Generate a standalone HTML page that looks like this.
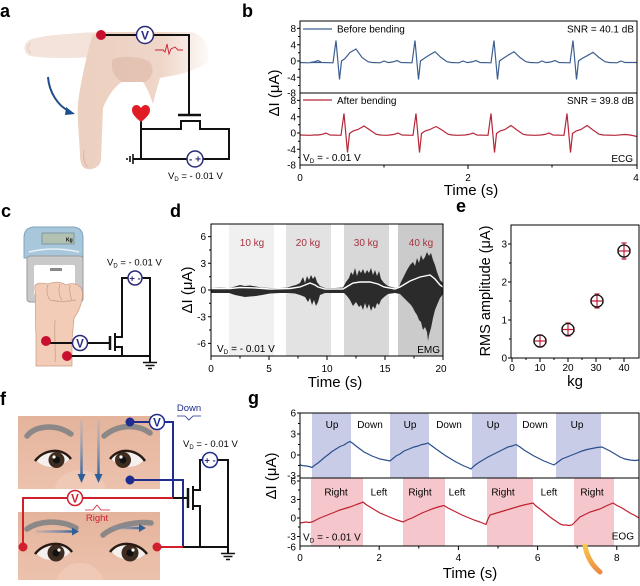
<!DOCTYPE html>
<html><head><meta charset="utf-8">
<style>
html,body{margin:0;padding:0;background:#fff;}
svg{display:block;font-family:"Liberation Sans",Arial,sans-serif;}
</style></head><body>
<svg width="640" height="586" viewBox="0 0 640 586" xmlns="http://www.w3.org/2000/svg">
<defs>
<linearGradient id="skinA" x1="80" y1="0" x2="215" y2="0" gradientUnits="userSpaceOnUse">
<stop offset="0" stop-color="#ecd0c0"/><stop offset="0.6" stop-color="#efd6c9"/><stop offset="1" stop-color="#ffffff"/>
</linearGradient>
<linearGradient id="faceT" x1="0" y1="0" x2="0" y2="1">
<stop offset="0" stop-color="#e4b49c"/><stop offset="1" stop-color="#ecc2ad"/>
</linearGradient>
<linearGradient id="arrV" x1="0" y1="420" x2="0" y2="478" gradientUnits="userSpaceOnUse">
<stop offset="0" stop-color="#9ab0cc" stop-opacity="0.3"/><stop offset="1" stop-color="#2f5f98"/>
</linearGradient>
<linearGradient id="arrH1" x1="36" y1="0" x2="76" y2="0" gradientUnits="userSpaceOnUse">
<stop offset="0" stop-color="#8a9ab8" stop-opacity="0.3"/><stop offset="1" stop-color="#2f5f98"/>
</linearGradient>
<linearGradient id="arrH2" x1="112" y1="0" x2="144" y2="0" gradientUnits="userSpaceOnUse">
<stop offset="0" stop-color="#8a9ab8" stop-opacity="0.3"/><stop offset="1" stop-color="#2f5f98"/>
</linearGradient>
<linearGradient id="orng" x1="0" y1="0" x2="0" y2="1">
<stop offset="0" stop-color="#f6c84a"/><stop offset="1" stop-color="#ef8a45"/>
</linearGradient>
<clipPath id="clipTop"><rect x="18" y="416" width="142" height="73"/></clipPath>
<clipPath id="clipBot"><rect x="18" y="512" width="142" height="68"/></clipPath>
</defs>

<!-- ================= PANEL A ================= -->
<text x="0" y="17" font-size="18" font-weight="bold">a</text>
<path d="M100,32 C75,33 45,35 32,39 C23,42 22,52 30,56 C50,59 75,58 92,57 Z" fill="#f3e3da"/>
<path d="M31,43 C27,46 27,50 31,53" stroke="#e2cabd" fill="none"/>
<path d="M92,36 C95,33 100,32 110,32 L190,32 C200,33 206,40 208,50 L208,62 C200,68 185,74 170,76 L160,78 C157,88 155,96 153,104 C150,95 147,88 143,82 L122,82 C115,86 108,96 103,108 L101,160 C100,167 93,170 87,169 C82,168 80,163 80,155 C79,135 77,115 78,103 C81,80 87,55 92,36 Z" fill="url(#skinA)"/>
<path d="M112,60 C120,55 140,56 150,62 C155,70 152,78 145,82 L122,82 C115,78 110,70 112,60Z" fill="#deb8a6" opacity="0.6"/>
<path d="M84,150 C83,158 84,164 88,167" stroke="#d9b8a8" fill="none"/>
<path d="M48,77 C49,92 58,106 69,111" stroke="#1f4e8c" stroke-width="2" fill="none"/>
<polygon points="75,114 66,107 65,115" fill="#1f4e8c"/>
<polyline points="155,50 163,50 165,52 167,44 169,54 171,49 175,47 178,50 183,50" stroke="#c8202e" stroke-width="0.9" fill="none"/>
<g stroke="#111" stroke-width="2" fill="none">
<path d="M101,35 H189 V115"/>
<path d="M178,115 H201" stroke-width="2.5"/>
<path d="M141,129 H181 V121 H200 V129 H229 V159 H141 V118"/>
<path d="M141,159 H133"/>
<path d="M133,154 V164 M130,156 V162 M127,158 V160" stroke-width="1.6"/>
</g>
<path d="M141,122 C135,117 132,114 132,110 C132,107 134,105 136.5,105 C138.5,105 140,106.5 141,108 C142,106.5 143.5,105 145.5,105 C148,105 150,107 150,110 C150,114 147,117 141,122 Z" fill="#e01c24"/>
<circle cx="101" cy="35" r="5" fill="#c8102e"/>
<circle cx="145" cy="35" r="8.5" fill="#fff" stroke="#2a2a7a" stroke-width="1.5"/>
<text x="145" y="39.5" font-size="12" text-anchor="middle" fill="#2a2a7a" font-weight="bold">V</text>
<circle cx="195" cy="159" r="8" fill="#fff" stroke="#2a2a7a" stroke-width="1.5"/>
<text x="195" y="162.5" font-size="10" text-anchor="middle" fill="#2a2a7a" font-weight="bold">- +</text>
<text x="168" y="179" font-size="9.5">V<tspan font-size="6" dy="2">D</tspan><tspan dy="-2"> = - 0.01 V</tspan></text>

<!-- ================= PANEL B ================= -->
<text x="242" y="17" font-size="18" font-weight="bold">b</text>
<polyline fill="none" stroke="#3d5f8f" stroke-width="1.2" points="300,62.5 308,62.8 316,62.3 322,62.5
310,62.5 314,61.9 318,60.5 322,62.5 333,62.8 336,40.5 339.5,79.5 341.5,61 345,58.5 350,52.5 356,49 362,57.5 368,61.7 372,62.5 380,62.8 384,61 388,62.5
389,62.5 393,61.9 397,60.5 401,62.5 412,62.8 415,40.5 418.5,79.5 420.5,61 424,58.5 429,55.2 435,51.7 441,57.5 447,61.7 451,62.5 459,62.8 463,61 467,62.5
468,62.5 472,61.9 476,60.5 480,62.5 491,62.8 494,40.5 497.5,79.5 499.5,61 503,58.5 508,55.2 514,51.7 520,57.5 526,61.7 530,62.5 538,62.8 542,61 546,62.5
547,62.5 551,61.9 555,60.5 559,62.5 570,62.8 573,40.5 576.5,79.5 578.5,61 582,58.5 587,55.8 593,52.3 599,57.5 605,61.7 609,62.5 617,62.8 621,61 625,62.5 637,62.5"/>
<polyline fill="none" stroke="#b5283a" stroke-width="1.2" points="300,135 310,135.3 314,135
318,135 322,134.4 326,133 330,135 341,135.3 344,113.5 347.5,152.5 349.5,133.5 353,131 358,129.5 364,126 370,130 376,134.2 380,135 386,135.3
390,135 394,134.4 398,133 402,135 413,135.3 416,113.5 419.5,152.5 421.5,133.5 425,131 430,129.5 436,126.5 442,130 448,134.2 452,135 458,135.3
465,135 469,134.4 473,133 477,135 488,135.3 491,113.5 494.5,152.5 496.5,133.5 500,131 505,129.5 511,125.5 517,130 523,134.2 527,135 535,135.3
541,135 545,134.4 549,133 553,135 564,135.3 567,113.5 570.5,152.5 572.5,133.5 576,131 581,129.5 587,125.5 593,130 599,134.2 603,135 615,135.3 625,134.5 630,135 637,136.5"/>
<g stroke="#000" stroke-width="1" fill="none">
<rect x="300" y="21" width="337" height="144"/>
<line x1="300" y1="93" x2="637" y2="93"/>
<path d="M297,28.4H300M297,44.7H300M297,61H300M297,77.3H300M297,100.4H300M297,116.7H300M297,133H300M297,149.3H300M298,36.5H300M298,52.8H300M298,69.2H300M298,85.5H300M298,108.5H300M298,124.8H300M298,141.2H300M298,157.4H300"/>
<path d="M300,165V169M468,165V169M637,165V169M384,165V167.5M552,165V167.5"/>
</g>
<line x1="303" y1="29" x2="332" y2="29" stroke="#3d5f8f" stroke-width="1.3"/>
<line x1="303" y1="100" x2="332" y2="100" stroke="#b5283a" stroke-width="1.3"/>
<g font-size="10">
<text x="337" y="32.5">Before bending</text>
<text x="337" y="104">After bending</text>
<text x="634" y="32.5" text-anchor="end">SNR = 40.1 dB</text>
<text x="634" y="104" text-anchor="end">SNR = 39.8 dB</text>
<text x="303" y="161">V<tspan font-size="6.5" dy="2">D</tspan><tspan dy="-2"> = - 0.01 V</tspan></text>
<text x="633" y="162" text-anchor="end">ECG</text>
</g>
<g font-size="10" text-anchor="end">
<text x="296" y="32">8</text><text x="296" y="48.3">4</text><text x="296" y="64.6">0</text><text x="296" y="80.9">-4</text><text x="296" y="96.5">-8</text>
<text x="296" y="104">8</text><text x="296" y="120.3">4</text><text x="296" y="136.6">0</text><text x="296" y="152.9">-4</text><text x="296" y="168.5">-8</text>
</g>
<g font-size="10" text-anchor="middle">
<text x="300" y="181">0</text><text x="468" y="181">2</text><text x="636" y="181">4</text>
</g>
<text x="471" y="195" font-size="15" text-anchor="middle">Time (s)</text>
<text transform="translate(279,93) rotate(-90)" font-size="15" text-anchor="middle">ΔI (μA)</text>

<!-- ================= PANEL C ================= -->
<text x="1" y="217" font-size="18" font-weight="bold">c</text>
<path d="M24,238 Q24,227 35,227 L72,227 Q83,227 83,238 L83,258 L24,258 Z" fill="#a9c7db" stroke="#7da4bf" stroke-width="1"/>
<rect x="42" y="233" width="32" height="11" fill="#b3c1b2" stroke="#6f8c9c" stroke-width="0.8"/>
<text x="66" y="241.5" font-size="5" font-weight="bold">Kg</text>
<path d="M29,252 Q53,246 79,252" stroke="#e9f3f9" stroke-width="1.6" fill="none"/>
<rect x="27" y="256" width="56" height="46" rx="3" fill="#c9c9c9" stroke="#9a9a9a" stroke-width="1"/>
<rect x="34" y="265" width="41" height="30" rx="2" fill="#fff"/>
<rect x="50" y="268" width="12" height="3" fill="#8a8a8a"/>
<path d="M35,290 C33,283 40,282 48,284 C55,281 62,282 66,285 C72,282 80,284 82,290 C84,298 80,310 74,318 L72,340 L72,366 L36,366 L36,335 C35,320 36,300 35,290 Z" fill="#f2ccb6" stroke="#c99a86" stroke-width="0.7"/>
<path d="M48,285 C46,290 47,296 50,300 M60,284 C58,290 59,296 62,300 M70,285 C69,290 70,296 72,300 M50,300 C58,302 66,302 76,300 M55,320 C54,335 56,350 55,362" stroke="#c99a86" stroke-width="0.7" fill="none"/>
<g stroke="#111" stroke-width="2" fill="none">
<path d="M46,343 H110"/>
<path d="M110,336 V350" stroke-width="2.5"/>
<path d="M115,333 V351"/>
<path d="M115,337 H122 V278 H128"/>
<path d="M142,278 H150 V362"/>
<path d="M115,347 H122 V356"/>
<path d="M67,356 H150"/>
<path d="M143,362.5 H157 M145.5,365.5 H154.5 M148,368.5 H152" stroke-width="1.5"/>
</g>
<circle cx="46" cy="341" r="5" fill="#c8102e"/>
<circle cx="67" cy="356" r="5" fill="#c8102e"/>
<circle cx="80" cy="343" r="7.5" fill="#fff" stroke="#2a2a7a" stroke-width="1.5"/>
<text x="80" y="347.5" font-size="11.5" text-anchor="middle" fill="#2a2a7a" font-weight="bold">V</text>
<circle cx="135" cy="278" r="7" fill="#fff" stroke="#2a2a7a" stroke-width="1.5"/>
<text x="135" y="281.5" font-size="9.5" text-anchor="middle" fill="#2a2a7a" font-weight="bold">+ -</text>
<text x="107" y="265.5" font-size="9.5">V<tspan font-size="6" dy="2">D</tspan><tspan dy="-2"> = - 0.01 V</tspan></text>

<!-- ================= PANEL D ================= -->
<text x="170" y="217" font-size="18" font-weight="bold">d</text>
<rect x="229" y="224" width="45" height="132" fill="#f0f0f0"/>
<rect x="286" y="224" width="45" height="132" fill="#e3e3e3"/>
<rect x="344" y="224" width="45" height="132" fill="#d8d8d8"/>
<rect x="398" y="224" width="45" height="132" fill="#cbcbcb"/>
<polygon fill="#2b2b2b" points="211,288 220,287.5 229,288 235,286.5 240,285 245,286 250,285.5 256,286.5 262,287.5 270,288 280,288 288,287.5 292,286 296,285 300,283 303,277 305,283 307,276 309,280 311,275 313,279 315,276 317,282 320,286 325,288 335,288 343,287.5 346,282 349,278 351,272 353,275 355,268 357,276 359,270 361,273 363,269 365,274 367,270 369,273 371,268 373,275 375,270 377,276 379,271 381,279 384,283 388,286 395,288 399,287 401,282 404,276 407,270 410,265 413,262 415,266 417,258 419,263 421,255 423,260 425,257 427,252 429,256 431,253 433,260 435,265 437,272 440,280 443,283
443,294 440,298 437,305 435,310 433,318 431,328 429,335 428,341 427,332 425,327 423,330 421,322 419,320 417,315 415,312 413,308 411,305 409,303 406,300 403,297 400,294 395,293 388,294 384,297 381,300 379,305 377,303 375,309 373,306 371,311 369,304 367,309 365,303 363,310 361,305 359,307 356,302 353,306 350,300 347,296 344,293 335,293 325,293 320,295 318,302 316,306 314,300 312,305 310,298 308,302 305,297 300,295 295,293.5 288,293 280,293 270,293.5 262,295 256,296 250,296.5 245,297 240,296 235,295 229,293 220,293 211,293"/>
<polyline fill="none" stroke="#fff" stroke-width="1.4" points="211,288.5 230,288.5 240,287.5 256,288 270,289 290,288.5 300,287 305,285 310,283 315,285 318,287 325,289 343,289 348,286 353,283 360,282 370,282 378,284 384,287 395,289 400,287 405,284 410,281 415,279 420,277 425,276 430,275 435,279 440,285 443,287"/>
<g stroke="#000" stroke-width="1" fill="none">
<rect x="211" y="224" width="232" height="132"/>
<path d="M208,236.6H211M208,263.3H211M208,290H211M208,316.7H211M208,343.4H211M209,250H211M209,276.7H211M209,303.3H211M209,330H211"/>
<path d="M211,356V360M269,356V360M327,356V360M385,356V360M443,356V360M240,356V358.5M298,356V358.5M356,356V358.5M414,356V358.5"/>
</g>
<g font-size="10" fill="#a8323e" text-anchor="middle">
<text x="252" y="246">10 kg</text><text x="308" y="246">20 kg</text><text x="366" y="246">30 kg</text><text x="421" y="246">40 kg</text>
</g>
<g font-size="10">
<text x="217" y="352">V<tspan font-size="6.5" dy="2">D</tspan><tspan dy="-2"> = - 0.01 V</tspan></text>
<text x="440" y="353" text-anchor="end">EMG</text>
</g>
<g font-size="10" text-anchor="end">
<text x="206" y="240">6</text><text x="206" y="267">3</text><text x="206" y="293.6">0</text><text x="206" y="320.3">-3</text><text x="206" y="347">-6</text>
</g>
<g font-size="10" text-anchor="middle">
<text x="211" y="372">0</text><text x="269" y="372">5</text><text x="327" y="372">10</text><text x="385" y="372">15</text><text x="441" y="372">20</text>
</g>
<text x="335" y="387" font-size="15" text-anchor="middle">Time (s)</text>
<text transform="translate(192,290) rotate(-90)" font-size="15" text-anchor="middle">ΔI (μA)</text>

<!-- ================= PANEL E ================= -->
<text x="456" y="212" font-size="18" font-weight="bold">e</text>
<g stroke="#000" stroke-width="1" fill="none">
<rect x="511" y="225" width="128" height="133"/>
<path d="M508,358H511M508,320H511M508,282H511M508,244H511M509,339H511M509,301H511M509,263H511"/>
<path d="M512,358V362M540,358V362M568,358V362M596,358V362M624,358V362M526,358V360M554,358V360M582,358V360M610,358V360"/>
</g>
<g stroke="#c0203a" stroke-width="1.2" fill="none">
<path d="M540,335V347M537.5,335H542.5M537.5,347H542.5M534,341H546M534,338.5V343.5M546,338.5V343.5"/>
<path d="M568,323V336M565.5,323H570.5M565.5,336H570.5M562,329.5H574M562,327V332M574,327V332"/>
<path d="M597,294V308M594.5,294H599.5M594.5,308H599.5M591,301H603M591,298.5V303.5M603,298.5V303.5"/>
<path d="M624,243V259M621.5,243H626.5M621.5,259H626.5M618,251H630M618,248.5V253.5M630,248.5V253.5"/>
</g>
<g stroke="#111" stroke-width="1.3" fill="none">
<circle cx="540" cy="341" r="6"/><circle cx="568" cy="329.5" r="6"/><circle cx="597" cy="301" r="6"/><circle cx="624" cy="251" r="6"/>
</g>
<g font-size="10" text-anchor="end">
<text x="507" y="361.6">0</text><text x="507" y="323.6">1</text><text x="507" y="285.6">2</text><text x="507" y="247.6">3</text>
</g>
<g font-size="10" text-anchor="middle">
<text x="512" y="371">0</text><text x="540" y="371">10</text><text x="568" y="371">20</text><text x="596" y="371">30</text><text x="624" y="371">40</text>
</g>
<text x="575" y="386" font-size="15" text-anchor="middle">kg</text>
<text transform="translate(490,291) rotate(-90)" font-size="14.5" text-anchor="middle">RMS amplitude (μA)</text>

<!-- ================= PANEL F ================= -->
<text x="0" y="405" font-size="18" font-weight="bold">f</text>
<rect x="18" y="416" width="142" height="73" fill="url(#faceT)"/>
<g clip-path="url(#clipTop)"><ellipse cx="80" cy="492" rx="26" ry="22" fill="#f0cbb8" opacity="0.8"/></g>
<rect x="18" y="512" width="142" height="68" fill="url(#faceT)"/>
<g clip-path="url(#clipBot)"><ellipse cx="80" cy="585" rx="24" ry="22" fill="#f0cbb8" opacity="0.8"/></g>
<!-- top eyebrows -->
<path d="M27,436 C35,426 55,423 71,434" stroke="#8c8888" stroke-width="5.5" fill="none" stroke-linecap="round"/>
<path d="M104,436 C118,424 138,424 150,433" stroke="#8c8888" stroke-width="5.5" fill="none" stroke-linecap="round"/>
<!-- top eyes -->
<path d="M36,460 C44,450 62,448 70,458 C62,469 44,470 36,460Z" fill="#f5f0ee"/>
<circle cx="56.5" cy="460" r="8" fill="#3e2c20"/><circle cx="56.5" cy="460" r="3.5" fill="#111"/><circle cx="54" cy="457" r="1.6" fill="#fff"/>
<path d="M35,461 C44,449 62,447 71,459" stroke="#2a1a14" stroke-width="2.5" fill="none"/>
<path d="M111,458 C119,448 137,450 144,460 C136,470 118,469 111,458Z" fill="#f5f0ee"/>
<circle cx="123" cy="460" r="8" fill="#3e2c20"/><circle cx="123" cy="460" r="3.5" fill="#111"/><circle cx="121" cy="457" r="1.6" fill="#fff"/>
<path d="M110,459 C119,447 137,449 145,461" stroke="#2a1a14" stroke-width="2.5" fill="none"/>
<!-- vertical arrows -->
<line x1="81.5" y1="420" x2="81.5" y2="476" stroke="url(#arrV)" stroke-width="2.5"/><polygon points="77.5,474 85.5,474 81.5,483" fill="#2f5f98"/>
<line x1="98.5" y1="420" x2="98.5" y2="476" stroke="url(#arrV)" stroke-width="2.5"/><polygon points="94.5,474 102.5,474 98.5,483" fill="#2f5f98"/>
<!-- bottom eyebrows -->
<path d="M27,529 C38,521 60,519 76,528" stroke="#8c8888" stroke-width="5.5" fill="none" stroke-linecap="round"/>
<path d="M103,535 C115,525 138,521 151,523" stroke="#8c8888" stroke-width="5.5" fill="none" stroke-linecap="round"/>
<line x1="36" y1="531.5" x2="74" y2="531.5" stroke="url(#arrH1)" stroke-width="2.5"/><polygon points="72,527.5 72,535.5 79,531.5" fill="#2f5f98"/>
<line x1="112" y1="528" x2="141" y2="528" stroke="url(#arrH2)" stroke-width="2.5"/><polygon points="139,524 139,532 146,528" fill="#2f5f98"/>
<!-- bottom eyes -->
<path d="M36,553 C44,543 63,541 71,551 C63,562 44,563 36,553Z" fill="#f5f0ee"/>
<circle cx="56" cy="553" r="8.5" fill="#3e2c20"/><circle cx="56" cy="553" r="3.6" fill="#111"/><circle cx="59" cy="550" r="1.6" fill="#fff"/>
<path d="M35,554 C44,542 63,540 72,552" stroke="#2a1a14" stroke-width="2.5" fill="none"/>
<path d="M111,551 C119,541 138,543 146,553 C138,563 119,562 111,551Z" fill="#f5f0ee"/>
<circle cx="130" cy="553" r="8.5" fill="#3e2c20"/><circle cx="130" cy="553" r="3.6" fill="#111"/><circle cx="133" cy="550" r="1.6" fill="#fff"/>
<path d="M110,552 C119,540 138,542 147,554" stroke="#2a1a14" stroke-width="2.5" fill="none"/>
<!-- circuit f -->
<g fill="none" stroke-width="2">
<path d="M130,422 H150" stroke="#1e2d8f"/>
<path d="M164.5,422 H173 V498" stroke="#1e2d8f"/>
<path d="M130,480 H183 V547" stroke="#1e2d8f"/>
<path d="M23,547 V498 H67.5" stroke="#d0202e"/>
<path d="M82.5,498 H173" stroke="#d0202e"/>
<path d="M157,547 H183" stroke="#d0202e"/>
<g stroke="#111">
<path d="M173,498 H188"/>
<path d="M188,488 V508" stroke-width="2.5"/>
<path d="M193,486 V510"/>
<path d="M193,490 H200 V460 H202.5"/>
<path d="M217.5,460 H228 V553"/>
<path d="M193,506 H200 V547"/>
<path d="M183,547 H228"/>
<path d="M221,553.5 H235 M223.5,556.5 H232.5 M226,559.5 H230" stroke-width="1.5"/>
</g>
</g>
<circle cx="130" cy="422" r="4.5" fill="#1e2d8f"/>
<circle cx="130" cy="480" r="4.5" fill="#1e2d8f"/>
<circle cx="23" cy="547" r="4.5" fill="#d0202e"/>
<circle cx="157" cy="547" r="4.5" fill="#d0202e"/>
<circle cx="157" cy="422" r="7.5" fill="#fff" stroke="#1e2d8f" stroke-width="1.5"/>
<text x="157" y="426.5" font-size="11.5" text-anchor="middle" fill="#1e2d8f" font-weight="bold">V</text>
<circle cx="75" cy="498" r="7.5" fill="#fff" stroke="#d0202e" stroke-width="1.5"/>
<text x="75" y="502.5" font-size="11.5" text-anchor="middle" fill="#d0202e" font-weight="bold">V</text>
<circle cx="210" cy="460" r="7.5" fill="#fff" stroke="#1e2d8f" stroke-width="1.5"/>
<text x="210" y="463.5" font-size="9.5" text-anchor="middle" fill="#1e2d8f" font-weight="bold">+ -</text>
<text x="189" y="411" font-size="9.5" text-anchor="middle" fill="#1e2d8f">Down</text>
<path d="M177,416 H185 L189,420 L193,416 H201" stroke="#1e2d8f" stroke-width="0.8" fill="none"/>
<text x="97" y="521" font-size="9.5" text-anchor="middle" fill="#d0202e">Right</text>
<path d="M85,510 H93 L97,505 L101,510 H110" stroke="#d0202e" stroke-width="0.8" fill="none"/>
<text x="183" y="447" font-size="9.5">V<tspan font-size="6" dy="2">D</tspan><tspan dy="-2"> = - 0.01 V</tspan></text>

<!-- ================= PANEL G ================= -->
<text x="248" y="404" font-size="18" font-weight="bold">g</text>
<g fill="#c8cce6">
<rect x="312" y="413" width="39" height="65"/><rect x="390" y="413" width="39" height="65"/><rect x="472" y="413" width="45" height="65"/><rect x="556" y="413" width="45" height="65"/>
</g>
<g fill="#f5c7cc">
<rect x="311" y="478" width="52" height="68"/><rect x="403" y="478" width="42" height="68"/><rect x="487" y="478" width="46" height="68"/><rect x="574" y="478" width="40" height="68"/>
</g>
<polyline fill="none" stroke="#2a4f8e" stroke-width="1.2" points="300,465 303,465.6 306,466 309,466.5 312,467.5 315,465 318,463 321,460.5 325,457 329,454 332,451.5 336,449 340,446.5 344,445 347,443 350,441.5 353,443.5 356,446 360,449 364,452 368,454 372,456 376,457.5 380,459 385,460 390,461 393,458.5 396,456 400,454 404,451 409,449 414,447 418,446 422,444.5 425,444 428,443 432,446 436,449 441,452.5 446,456 451,459 456,462 460,464 464,466 468,467.5 471,469 474,466 478,463 483,460 488,457 493,454.5 498,452 503,449.5 508,447 512,446 516,444.5 520,447 524,450 529,453 534,456 539,458.5 544,461 549,463 554,465 558,462 562,459 567,457 572,455 577,453 582,451 587,449.5 592,448.5 597,447.5 602,447 606,449 610,451 615,454 620,457 625,459 630,460 635,460.5 639,460"/>
<polyline fill="none" stroke="#c0202e" stroke-width="1.2" points="300,523 303,522.5 306,522 309,522.5 312,522 316,520 320,518 325,516 330,514 335,512 340,510 345,508.5 350,507 354,505.5 358,504 361,503 363,502 366,504.5 370,507 375,510 380,513 386,515.5 392,518 397,520 403,522 407,520 412,518 417,515.5 422,513 427,511 432,509 438,507 444,505.5 448,508 452,510 457,512.5 462,515 468,517.5 474,520 480,522 486,524.5 488,519 490,515 495,513.5 500,512 505,510.5 510,509 515,507.5 520,506 526,504.5 533,503 536,506 540,509 545,513 550,517 555,520.5 560,524 563,525 566,525 569,525.5 572,525 576,521 580,517 585,514.5 590,512 595,510.5 600,509 606,506 613,503 617,505.5 622,508 626,510.5 630,513 635,515.5 639,518"/>
<g stroke="#000" stroke-width="1" fill="none">
<rect x="300" y="413" width="339" height="133"/>
<line x1="300" y1="478" x2="639" y2="478"/>
<path d="M297,413H300M297,434H300M297,455H300M297,476H300M297,481H300M297,499.5H300M297,518H300M297,536.5H300M298,423.5H300M298,444.5H300M298,465.5H300M298,490H300M298,509H300M298,527H300"/>
<path d="M300,546V550M379.2,546V550M458.4,546V550M537.6,546V550M616.8,546V550M339.6,546V548.5M418.8,546V548.5M498,546V548.5M577.2,546V548.5"/>
</g>
<g font-size="10" text-anchor="middle">
<text x="332" y="428">Up</text><text x="370" y="428">Down</text><text x="410" y="428">Up</text><text x="449" y="428">Down</text><text x="493" y="428">Up</text><text x="535" y="428">Down</text><text x="577" y="428">Up</text>
<text x="336" y="495.5">Right</text><text x="379" y="495.5">Left</text><text x="420" y="495.5">Right</text><text x="457" y="495.5">Left</text><text x="503" y="495.5">Right</text><text x="549" y="495.5">Left</text><text x="592" y="495.5">Right</text>
</g>
<g font-size="10">
<text x="303" y="540.5">V<tspan font-size="6.5" dy="2">D</tspan><tspan dy="-2"> = - 0.01 V</tspan></text>
<text x="634" y="539.5" text-anchor="end">EOG</text>
</g>
<g font-size="10" text-anchor="end">
<text x="296" y="416.6">6</text><text x="296" y="437.6">3</text><text x="296" y="458.6">0</text><text x="296" y="479">-3</text>
<text x="296" y="484.6">6</text><text x="296" y="503.1">3</text><text x="296" y="521.6">0</text><text x="296" y="540.1">-3</text><text x="296" y="550.3">-6</text>
</g>
<g font-size="10" text-anchor="middle">
<text x="300" y="561">0</text><text x="379.2" y="561">2</text><text x="458.4" y="561">4</text><text x="537.6" y="561">6</text><text x="616.8" y="561">8</text>
</g>
<text x="470" y="578" font-size="15" text-anchor="middle">Time (s)</text>
<text transform="translate(276,476) rotate(-90)" font-size="15" text-anchor="middle">ΔI (μA)</text>
<path d="M585,546 Q588,562 600,572" stroke="url(#orng)" stroke-width="5" stroke-linecap="round" fill="none"/>
</svg>
</body></html>
